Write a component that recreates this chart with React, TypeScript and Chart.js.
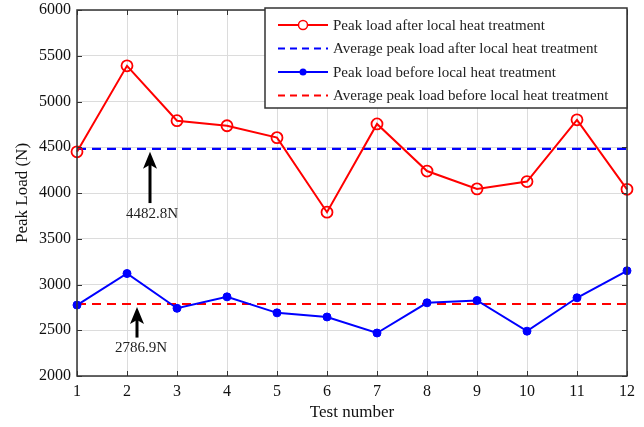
import React, { useEffect, useRef } from "react";
import { Chart, registerables } from "chart.js";

Chart.register(...registerables);

const testNumbers = ["1", "2", "3", "4", "5", "6", "7", "8", "9", "10", "11", "12"];
const peakAfter = [4450, 5390, 4790, 4735, 4605, 3790, 4755, 4240, 4045, 4125, 4800, 4040];
const peakBefore = [2775, 3120, 2740, 2865, 2690, 2645, 2470, 2800, 2825, 2490, 2855, 3150];
const avgAfter = 4482.8;
const avgBefore = 2786.9;
const legendLabels = [
  "Peak load after local heat treatment",
  "Average peak load after local heat treatment",
  "Peak load before local heat treatment",
  "Average peak load before local heat treatment",
];
const annotations = [
  { text: "4482.8N", x: 2.46, tip: 4450, tail: 3890, labelY: 3775, labelX: 2.5 },
  { text: "2786.9N", x: 2.2, tip: 2755, tail: 2420, labelY: 2300, labelX: 2.28 },
];

const FONT = "'Liberation Serif', 'Times New Roman', serif";

const framePlugin = {
  id: "frameAndExtras",
  afterDraw(chart: any) {
    const { ctx, chartArea: a, scales } = chart;
    const xs = scales.x;
    const ys = scales.y;
    ctx.save();
    ctx.strokeStyle = "#333";
    ctx.lineWidth = 1;
    xs.ticks.forEach((_t: any, i: number) => {
      const px = Math.round(xs.getPixelForTick(i)) + 0.5;
      ctx.beginPath();
      ctx.moveTo(px, a.bottom);
      ctx.lineTo(px, a.bottom - 5);
      ctx.moveTo(px, a.top);
      ctx.lineTo(px, a.top + 5);
      ctx.stroke();
    });
    ys.ticks.forEach((t: any) => {
      const py = Math.round(ys.getPixelForValue(t.value)) + 0.5;
      ctx.beginPath();
      ctx.moveTo(a.left, py);
      ctx.lineTo(a.left + 5, py);
      ctx.moveTo(a.right, py);
      ctx.lineTo(a.right - 5, py);
      ctx.stroke();
    });
    ctx.lineWidth = 1.5;
    ctx.strokeStyle = "#333";
    ctx.strokeRect(a.left, a.top, a.right - a.left, a.bottom - a.top);

    annotations.forEach((an) => {
      const px = xs.getPixelForValue(an.x - 1);
      const tipY = ys.getPixelForValue(an.tip);
      const tailY = ys.getPixelForValue(an.tail);
      ctx.strokeStyle = "#000";
      ctx.fillStyle = "#000";
      ctx.lineWidth = 3;
      ctx.beginPath();
      ctx.moveTo(px, tailY);
      ctx.lineTo(px, tipY + 12);
      ctx.stroke();
      ctx.beginPath();
      ctx.moveTo(px, tipY);
      ctx.lineTo(px - 7, tipY + 17);
      ctx.lineTo(px, tipY + 13);
      ctx.lineTo(px + 7, tipY + 17);
      ctx.closePath();
      ctx.fill();
      ctx.font = `15px ${FONT}`;
      ctx.fillStyle = "#222";
      ctx.textAlign = "center";
      ctx.textBaseline = "middle";
      ctx.fillText(an.text, xs.getPixelForValue(an.labelX - 1), ys.getPixelForValue(an.labelY));
    });

    const bx = 265;
    const by = 8;
    const bw = a.right - bx;
    const bh = 100;
    ctx.fillStyle = "#fff";
    ctx.fillRect(bx, by, bw, bh);
    ctx.lineWidth = 1.5;
    ctx.strokeStyle = "#333";
    ctx.strokeRect(bx, by, bw, bh);
    const styles = [
      { color: "#ff0000", dash: [], marker: "circle" },
      { color: "#0000ff", dash: [7, 5], marker: "" },
      { color: "#0000ff", dash: [], marker: "star" },
      { color: "#ff0000", dash: [7, 5], marker: "" },
    ];
    legendLabels.forEach((lbl, i) => {
      const y = by + 17 + i * 23.5;
      const s = styles[i];
      ctx.strokeStyle = s.color;
      ctx.lineWidth = 2;
      ctx.setLineDash(s.dash);
      ctx.beginPath();
      ctx.moveTo(278, y);
      ctx.lineTo(328, y);
      ctx.stroke();
      ctx.setLineDash([]);
      if (s.marker === "circle") {
        ctx.lineWidth = 1.5;
        ctx.fillStyle = "#fff";
        ctx.beginPath();
        ctx.arc(303, y, 4.5, 0, Math.PI * 2);
        ctx.fill();
        ctx.stroke();
      } else if (s.marker === "star") {
        ctx.fillStyle = s.color;
        ctx.beginPath();
        ctx.arc(303, y, 3.5, 0, Math.PI * 2);
        ctx.fill();
      }
      ctx.fillStyle = "#222";
      ctx.font = `15px ${FONT}`;
      ctx.textAlign = "left";
      ctx.textBaseline = "middle";
      ctx.fillText(lbl, 333, y + 1);
    });
    ctx.restore();
  },
};

export default function App() {
  const ref = useRef<HTMLCanvasElement>(null);
  useEffect(() => {
    document.body.style.margin = "0";
    const chart = new Chart(ref.current!, {
      type: "line",
      data: {
        labels: testNumbers,
        datasets: [
          {
            label: legendLabels[0],
            data: peakAfter,
            borderColor: "#ff0000",
            borderWidth: 2,
            pointStyle: "circle",
            pointRadius: 5.5,
            pointBorderWidth: 1.8,
            pointBackgroundColor: "rgba(0,0,0,0)",
            tension: 0,
          },
          {
            label: legendLabels[1],
            data: testNumbers.map(() => avgAfter),
            borderColor: "#0000ff",
            borderWidth: 2.2,
            borderDash: [9, 6],
            pointRadius: 0,
          },
          {
            label: legendLabels[2],
            data: peakBefore,
            borderColor: "#0000ff",
            backgroundColor: "#0000ff",
            borderWidth: 2,
            pointStyle: "circle",
            pointRadius: 4,
            pointBorderWidth: 1,
            pointBackgroundColor: "#0000ff",
            tension: 0,
          },
          {
            label: legendLabels[3],
            data: testNumbers.map(() => avgBefore),
            borderColor: "#ff0000",
            borderWidth: 2.2,
            borderDash: [9, 6],
            pointRadius: 0,
          },
        ],
      },
      options: {
        animation: false,
        responsive: false,
        layout: { padding: { top: 10, right: 17, left: 0, bottom: 0 } },
        plugins: { legend: { display: false }, tooltip: { enabled: false } },
        scales: {
          x: {
            type: "category",
            offset: false,
            grid: { color: "#dcdcdc", lineWidth: 1, drawTicks: false },
            border: { display: false },
            ticks: { color: "#111", font: { family: FONT, size: 16 }, padding: 6, maxRotation: 0 },
            title: { display: true, text: "Test number", color: "#111", font: { family: FONT, size: 17 }, padding: { top: 0 } },
            afterFit(s: any) {
              s.height = 51;
              s.paddingLeft = 0;
              s.paddingRight = 0;
            },
          },
          y: {
            min: 2000,
            max: 6000,
            ticks: {
              stepSize: 500,
              color: "#111",
              font: { family: FONT, size: 16 },
              padding: 6,
              callback: (v: any) => String(v),
            },
            grid: { color: "#dcdcdc", lineWidth: 1, drawTicks: false },
            border: { display: false },
            title: { display: true, text: "Peak Load (N)", color: "#111", font: { family: FONT, size: 17 }, padding: { top: 12, bottom: 0 } },
            afterFit(s: any) {
              s.width = 77;
              s.paddingTop = 0;
              s.paddingBottom = 0;
            },
          },
        },
      },
      plugins: [framePlugin],
    } as any);
    return () => chart.destroy();
  }, []);
  return <canvas ref={ref} width={644} height={427} style={{ display: "block" }} />;
}
